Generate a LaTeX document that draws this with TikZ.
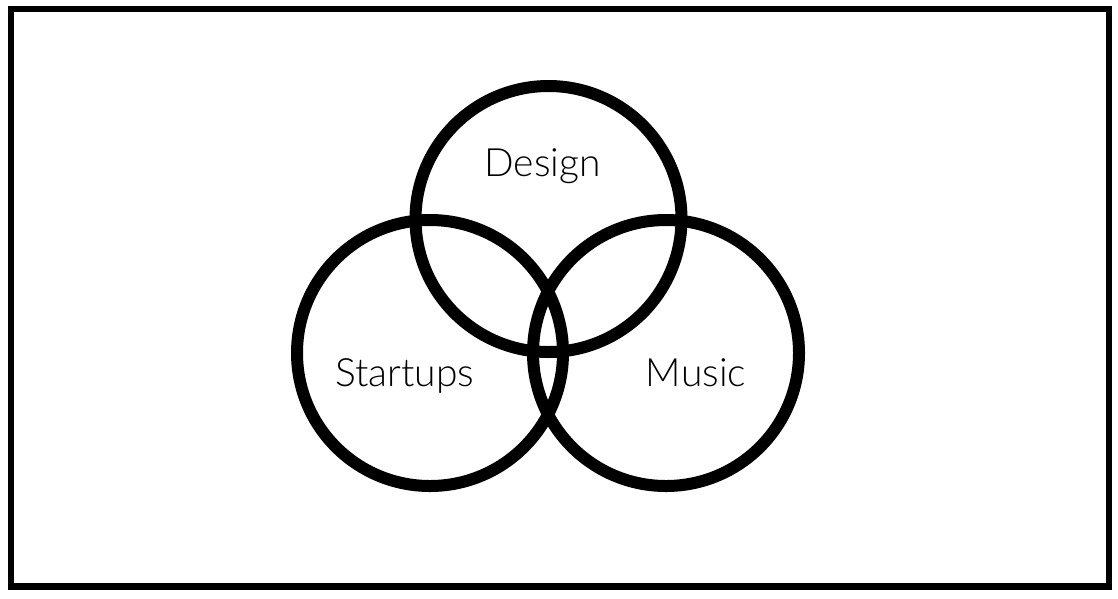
\documentclass[tikz,border=0pt]{standalone}
\usepackage{fontspec}
\setmainfont{Lato}[UprightFont=* Light]
\begin{document}
\begin{tikzpicture}[x=1pt,y=-1pt,
  venn/.style={draw=black, line width=12pt, circle, minimum size=266pt, inner sep=0pt},
  lbl/.style={font=\fontsize{39}{46}\selectfont, text=black, inner sep=0pt, anchor=base}]
\useasboundingbox (0,0) rectangle (1118,598);
\draw[line width=6.5pt] (11,9) rectangle (1109,586.5);
\node[venn] (cdesign) at (548.5,219) {};
\node[venn] (cstart) at (430,353) {};
\node[venn] (cmusic) at (666,353) {};
\node[lbl] (design) at (542.5,176.7) {Design};
\node[lbl] (startups) at (404.7,386.7) {Startups};
\node[lbl] (music) at (696,386.7) {Music};
\end{tikzpicture}
\end{document}
